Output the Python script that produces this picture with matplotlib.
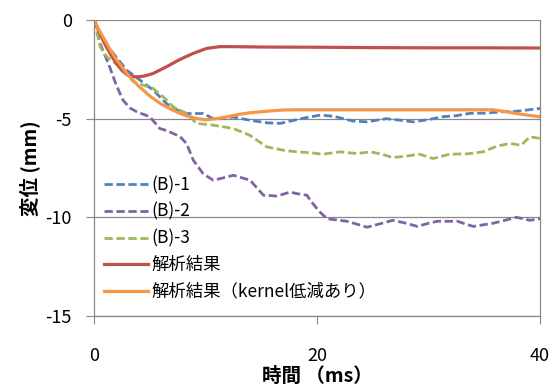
import matplotlib
matplotlib.use("Agg")
import matplotlib.pyplot as plt

plt.rcParams['font.family'] = ['Noto Sans CJK JP', 'DejaVu Sans']
plt.rcParams['axes.unicode_minus'] = False

# (B)-1
t_b1 = [0, 0.5, 1, 1.73, 2.93, 4.13, 5.3, 6.5, 7.4, 8.3, 9.8, 10.7, 11.5, 12.5, 14.0, 15.5, 16.7,
        17.8, 19, 20.3, 21.5, 23.2, 24.5, 26.2, 27.5, 28.6, 30, 31.3, 32.5, 33.7, 35, 36.7, 38, 40]
y_b1 = [0, -0.6, -1.15, -1.69, -2.54, -3.05, -3.55, -4.23, -4.55, -4.74, -4.74, -5.0, -4.98, -4.92,
        -5.08, -5.21, -5.24, -5.1, -4.95, -4.82, -4.88, -5.12, -5.16, -5.0, -5.08, -5.16, -5.05,
        -4.9, -4.85, -4.73, -4.72, -4.65, -4.62, -4.48]
# (B)-2
t_b2 = [0, 0.54, 1.4, 2.0, 2.6, 3.2, 3.83, 5.0, 5.9, 6.5, 7.7, 8.3, 8.9, 9.8, 10.7, 11.3, 12.5,
        14.0, 14.6, 15.2, 16.4, 17.6, 18.2, 19.1, 19.4, 20.2, 20.9, 22.7, 24.5, 25.5, 26.8, 28,
        29, 30, 30.8, 32.6, 34.0, 35.8, 37.9, 39.1, 40]
y_b2 = [0, -1.18, -2.37, -3.3, -4.06, -4.45, -4.65, -4.9, -5.5, -5.6, -5.9, -6.26, -7.1, -7.8,
        -8.12, -8.04, -7.87, -8.12, -8.5, -8.88, -8.92, -8.72, -8.8, -8.88, -9.14, -9.7, -10.07,
        -10.2, -10.5, -10.35, -10.15, -10.3, -10.46, -10.3, -10.2, -10.2, -10.46, -10.3, -10.0,
        -10.15, -10.07]
# (B)-3
t_b3 = [0, 0.24, 0.54, 1.14, 2.33, 3.53, 4.42, 5.3, 6.2, 7.1, 8.3, 9.2, 10.7, 12.5, 13.97, 15.5,
        17, 18.2, 19.3, 20.5, 22.1, 23.6, 24.8, 25.8, 26.8, 28, 29.2, 30.4, 31.9, 33.5, 34.9,
        36.1, 37.3, 38.3, 39.1, 40]
y_b3 = [0, -0.51, -1.35, -1.86, -2.37, -3.13, -3.3, -3.47, -3.89, -4.4, -4.74, -5.24, -5.33,
        -5.5, -5.84, -6.43, -6.6, -6.68, -6.72, -6.8, -6.68, -6.77, -6.68, -6.8, -6.97, -6.9,
        -6.8, -7.02, -6.8, -6.78, -6.68, -6.4, -6.25, -6.35, -5.92, -6.0]
# 解析結果
t_an = [0, 0.5, 1, 1.5, 2, 2.5, 3, 3.5, 4, 4.5, 5.3, 6.5, 7.7, 8.9, 10.1, 11.3, 12.5, 15, 20,
        25, 30, 35, 40]
y_an = [0, -0.65, -1.25, -1.75, -2.2, -2.55, -2.78, -2.87, -2.88, -2.84, -2.71, -2.37, -2.0,
        -1.69, -1.44, -1.35, -1.35, -1.37, -1.38, -1.4, -1.41, -1.41, -1.42]
# 解析結果（kernel低減あり）
t_ak = [0, 0.5, 1, 1.5, 2, 3, 4, 5, 6, 7, 8, 9, 10, 11, 12, 13, 14, 15, 16, 17, 18, 20, 25, 30,
        35, 35.8, 37, 38, 39, 40]
y_ak = [0, -0.55, -1.05, -1.55, -2.0, -2.75, -3.35, -3.85, -4.25, -4.55, -4.8, -4.97, -5.06,
        -5.0, -4.9, -4.78, -4.7, -4.65, -4.6, -4.56, -4.55, -4.55, -4.55, -4.55, -4.55, -4.55,
        -4.65, -4.75, -4.83, -4.9]

labels = ['(B)-1', '(B)-2', '(B)-3', '解析結果', '解析結果（kernel低減あり）']
x_ticks = [0, 20, 40]
y_ticks = [0, -5, -10, -15]

fig = plt.figure(figsize=(5.53, 3.88), dpi=100)
ax = fig.add_axes([94/553, 1-316/388, 446/553, 296/388])

dash = (3.0, 1.3)
ax.plot(t_b1, y_b1, color='#4F81BD', lw=2.0, dashes=dash, label=labels[0])
ax.plot(t_b2, y_b2, color='#8064A2', lw=2.0, dashes=dash, label=labels[1])
ax.plot(t_b3, y_b3, color='#9BBB59', lw=2.0, dashes=dash, label=labels[2])
ax.plot(t_an, y_an, color='#C0504D', lw=2.3, label=labels[3])
ax.plot(t_ak, y_ak, color='#F79646', lw=2.3, label=labels[4])

ax.set_xlim(0, 40)
ax.set_ylim(-15, 0)
ax.set_xticks(x_ticks)
ax.set_yticks(y_ticks)
ax.grid(axis='y', color='#888888', lw=0.9)
ax.set_axisbelow(True)
for s in ['left', 'bottom', 'right']:
    ax.spines[s].set_color('#888888')
    ax.spines[s].set_linewidth(0.9)
ax.spines['top'].set_visible(False)
ax.tick_params(axis='x', length=6, color='#888888', pad=16, labelsize=13)
ax.tick_params(axis='y', length=6, color='#888888', pad=10, labelsize=13)

ax.set_xlabel('時間 （ms）', fontsize=14, fontweight='bold', labelpad=2)
ax.set_ylabel('変位 (mm)', fontsize=14, fontweight='bold', labelpad=4)

ax.legend(loc='upper left', bbox_to_anchor=(0.0235, 0.473), frameon=False, fontsize=12.5,
          handlelength=2.5, handletextpad=0.2, labelspacing=0.49, borderpad=0, borderaxespad=0)

fig.savefig('out.png', dpi=100)
